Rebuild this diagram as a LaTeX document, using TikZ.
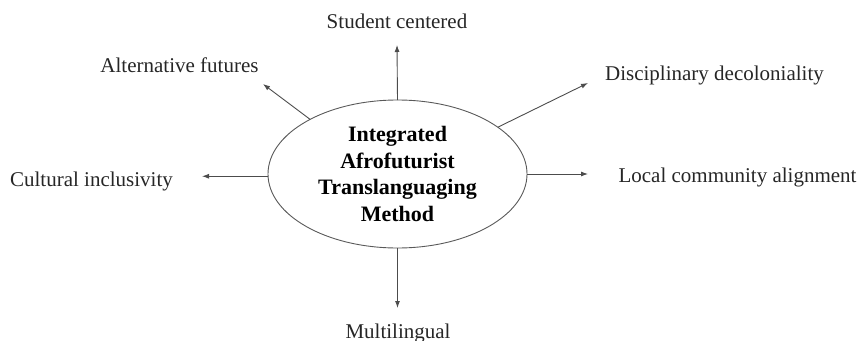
\documentclass[tikz,border=0pt]{standalone}
\usepackage{fontspec}
\setmainfont{Liberation Serif}
\usetikzlibrary{shapes.geometric,arrows.meta}

\begin{document}
\begin{tikzpicture}[x=1pt, y=-1pt,
    hub/.style={ellipse, draw=black!65, line width=0.9pt, minimum width=259pt,
      minimum height=148pt, inner sep=0pt, outer sep=0pt, align=center,
      font=\fontsize{22}{26.5}\selectfont\bfseries},
    lbl/.style={anchor=base, inner sep=0pt, text=black!85,
      font=\fontsize{21}{25}\selectfont},
    link/.style={draw=black!70, line width=0.9pt, -{Latex[length=7pt,width=5pt]}}]
  \useasboundingbox (0,0) rectangle (864,340);
  % centre of the method
  \node[hub] (hub) at (397.5,174) {Integrated\\Afrofuturist\\Translanguaging\\Method};
  % text around it
  \node[lbl] (student) at (397,28) {Student centered};
  \node[lbl] (futures) at (179.5,72) {Alternative futures};
  \node[lbl] (decolonial) at (714.5,80) {Disciplinary decoloniality};
  \node[lbl] (local) at (737.5,182) {Local community alignment};
  \node[lbl] (cultural) at (91.5,186) {Cultural inclusivity};
  \node[lbl] (multi) at (398,338) {Multilingual};
  % arrow ends
  \coordinate (studentTip) at (397,45);
  \coordinate (futuresTip) at (263,84);
  \coordinate (decolonialTip) at (588,83);
  \coordinate (localTip) at (588,174);
  \coordinate (culturalTip) at (202,178);
  \coordinate (multiTip) at (397.5,308);
  % arrows
  \draw[link] (hub.90) -- (studentTip);
  \draw[link] (hub.148.9) -- (futuresTip);
  \draw[link] (hub.25.1) -- (decolonialTip);
  \draw[link] (hub.0) -- (localTip);
  \draw[link] (hub.181.8) -- (hub.181.8 -| culturalTip);
  \draw[link] (hub.270) -- (multiTip);
\end{tikzpicture}
\end{document}
